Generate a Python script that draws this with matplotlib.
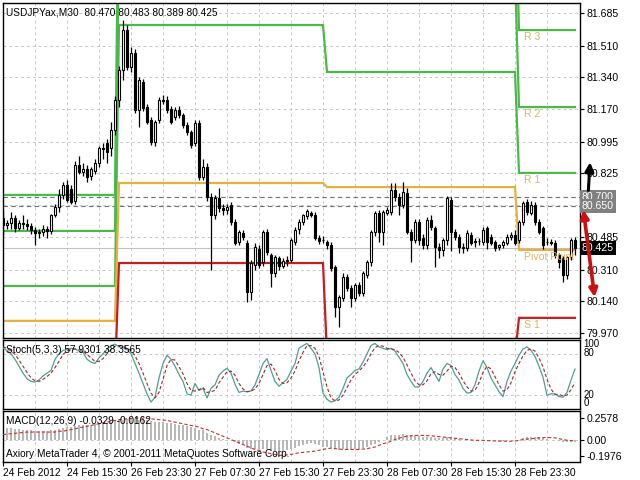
import numpy as np
import matplotlib
matplotlib.use('Agg')
from matplotlib import pyplot as plt

plt.rcParams['font.family'] = ['Liberation Sans', 'DejaVu Sans']
plt.rcParams['font.size'] = 7

# USDJPYax M30 bars, 24 Feb 07:30 .. 29 Feb 06:00
opens = [80.586, 80.549, 80.559, 80.586, 80.533, 80.559, 80.554, 80.545,
         80.522, 80.506, 80.511, 80.530, 80.515, 80.602, 80.645, 80.710,
         80.763, 80.740, 80.680, 80.870, 80.833, 80.850, 80.810, 80.840,
         80.881, 80.961, 80.988, 80.960, 81.058, 81.219, 81.380, 81.594,
         81.396, 81.471, 81.165, 81.315, 81.181, 81.112, 80.994, 81.112,
         81.219, 81.219, 81.170, 81.128, 81.165, 81.138, 81.085, 81.047,
         80.988, 81.095, 80.806, 80.860, 80.699, 80.602, 80.693, 80.640,
         80.629, 80.656, 80.565, 80.458, 80.506, 80.450, 80.190, 80.334,
         80.420, 80.350, 80.511, 80.388, 80.292, 80.370, 80.330, 80.355,
         80.361, 80.458, 80.530, 80.565, 80.596, 80.612, 80.600, 80.479,
         80.468, 80.460, 80.442, 80.324, 80.109, 80.157, 80.270, 80.211,
         80.157, 80.227, 80.184, 80.281, 80.350, 80.511, 80.613, 80.511,
         80.613, 80.618, 80.736, 80.699, 80.656, 80.720, 80.511, 80.468,
         80.565, 80.479, 80.442, 80.576, 80.533, 80.431, 80.415, 80.468,
         80.683, 80.511, 80.484, 80.431, 80.425, 80.495, 80.458, 80.465,
         80.458, 80.533, 80.484, 80.458, 80.430, 80.440, 80.452, 80.484,
         80.495, 80.470, 80.565, 80.672, 80.613, 80.656, 80.565, 80.533,
         80.460, 80.455, 80.452, 80.388, 80.372, 80.281, 80.377, 80.470]
highs = [80.630, 80.575, 80.618, 80.600, 80.575, 80.600, 80.580, 80.560,
         80.540, 80.530, 80.550, 80.545, 80.610, 80.660, 80.740, 80.780,
         80.790, 80.765, 80.890, 80.920, 80.880, 80.870, 80.860, 80.900,
         80.975, 80.990, 81.010, 81.100, 81.240, 81.400, 81.647, 81.620,
         81.503, 81.490, 81.340, 81.330, 81.200, 81.130, 81.110, 81.235,
         81.245, 81.240, 81.185, 81.180, 81.185, 81.150, 81.100, 81.060,
         81.110, 81.110, 80.900, 80.880, 80.720, 80.710, 80.747, 80.660,
         80.660, 80.670, 80.580, 80.520, 80.520, 80.470, 80.360, 80.450,
         80.440, 80.520, 80.530, 80.400, 80.390, 80.385, 80.370, 80.380,
         80.480, 80.540, 80.580, 80.610, 80.635, 80.625, 80.620, 80.495,
         80.490, 80.470, 80.455, 80.335, 80.175, 80.290, 80.285, 80.225,
         80.240, 80.245, 80.300, 80.360, 80.520, 80.625, 80.630, 80.630,
         80.645, 80.774, 80.774, 80.720, 80.780, 80.745, 80.525, 80.580,
         80.580, 80.500, 80.590, 80.600, 80.545, 80.450, 80.480, 80.705,
         80.700, 80.530, 80.500, 80.450, 80.520, 80.510, 80.480, 80.480,
         80.540, 80.545, 80.500, 80.470, 80.445, 80.470, 80.500, 80.510,
         80.520, 80.575, 80.680, 80.690, 80.680, 80.670, 80.580, 80.545,
         80.480, 80.475, 80.470, 80.400, 80.385, 80.385, 80.480, 80.483]
lows = [80.495, 80.530, 80.530, 80.510, 80.520, 80.530, 80.520, 80.500,
        80.442, 80.480, 80.490, 80.480, 80.500, 80.590, 80.620, 80.690,
        80.670, 80.660, 80.660, 80.820, 80.810, 80.780, 80.790, 80.820,
        80.860, 80.900, 80.880, 80.920, 81.030, 81.180, 81.326, 81.380,
        81.370, 81.150, 81.074, 81.160, 81.090, 80.980, 80.975, 81.095,
        81.200, 81.150, 81.090, 81.110, 81.120, 81.070, 81.030, 80.960,
        80.970, 80.790, 80.790, 80.680, 80.308, 80.580, 80.620, 80.600,
        80.610, 80.550, 80.440, 80.440, 80.470, 80.136, 80.147, 80.310,
        80.320, 80.330, 80.390, 80.216, 80.270, 80.310, 80.320, 80.330,
        80.350, 80.440, 80.500, 80.550, 80.580, 80.590, 80.470, 80.445,
        80.450, 80.420, 80.300, 80.056, 80.002, 80.140, 80.195, 80.109,
        80.140, 80.170, 80.170, 80.265, 80.330, 80.490, 80.460, 80.440,
        80.600, 80.600, 80.680, 80.602, 80.640, 80.500, 80.350, 80.450,
        80.440, 80.420, 80.420, 80.520, 80.324, 80.370, 80.380, 80.440,
        80.410, 80.470, 80.400, 80.400, 80.410, 80.440, 80.430, 80.440,
        80.440, 80.420, 80.440, 80.410, 80.415, 80.425, 80.440, 80.470,
        80.440, 80.450, 80.550, 80.600, 80.600, 80.550, 80.500, 80.420,
        80.440, 80.440, 80.370, 80.320, 80.243, 80.260, 80.360, 80.389]
closes = [80.549, 80.559, 80.586, 80.533, 80.559, 80.554, 80.545, 80.522,
          80.506, 80.511, 80.530, 80.515, 80.602, 80.645, 80.710, 80.763,
          80.683, 80.670, 80.870, 80.833, 80.850, 80.806, 80.850, 80.881,
          80.961, 80.955, 80.940, 81.058, 81.219, 81.380, 81.594, 81.396,
          81.471, 81.165, 81.326, 81.176, 81.101, 80.994, 81.101, 81.219,
          81.215, 81.165, 81.101, 81.165, 81.138, 81.085, 81.047, 80.978,
          81.095, 80.806, 80.860, 80.699, 80.602, 80.693, 80.640, 80.629,
          80.645, 80.565, 80.452, 80.511, 80.484, 80.190, 80.345, 80.431,
          80.334, 80.511, 80.404, 80.292, 80.377, 80.330, 80.355, 80.360,
          80.468, 80.522, 80.565, 80.600, 80.625, 80.602, 80.479, 80.463,
          80.470, 80.440, 80.318, 80.109, 80.163, 80.270, 80.211, 80.157,
          80.227, 80.184, 80.292, 80.350, 80.511, 80.613, 80.511, 80.618,
          80.629, 80.736, 80.699, 80.656, 80.725, 80.511, 80.468, 80.565,
          80.468, 80.442, 80.576, 80.538, 80.431, 80.415, 80.468, 80.693,
          80.511, 80.484, 80.431, 80.425, 80.506, 80.452, 80.465, 80.462,
          80.522, 80.458, 80.452, 80.425, 80.440, 80.455, 80.484, 80.495,
          80.452, 80.565, 80.667, 80.618, 80.656, 80.565, 80.511, 80.442,
          80.455, 80.450, 80.388, 80.350, 80.281, 80.377, 80.468, 80.425]

# daily pivot levels (day starts at bar 0, 29, 81, 129)
day_len = [29, 52, 48, 15]
r3 = [80.710, 82.600, 82.400, 81.594]
r2 = [80.517, 82.100, 81.900, 81.181]
r1 = [80.222, 81.621, 81.369, 80.828]
pp = [80.035, 80.774, 80.752, 80.415]
s1 = [79.750, 80.345, 79.850, 80.051]
s2 = [79.550, 79.500, 79.400, 79.700]

# Stoch(5,3,3)
stoch_k = [88, 85, 80, 72, 62, 52, 44, 40, 39, 42, 48, 52, 56, 72, 80, 85,
           86, 88, 87, 84, 82, 72, 68, 66, 74, 80, 86, 92, 94, 90, 89, 86,
           80, 66, 52, 37, 22, 10, 17, 45, 66, 78, 72, 62, 50, 40, 22, 20,
           37, 27, 30, 16, 30, 35, 49, 55, 59, 52, 36, 24, 26, 25, 26, 35,
           50, 66, 73, 56, 40, 33, 38, 43, 55, 66, 88, 92, 95, 88, 80, 60,
           23, 14, 10, 12, 17, 30, 45, 50, 56, 58, 68, 80, 92, 95, 90, 88,
           86, 88, 84, 75, 66, 50, 40, 32, 32, 40, 52, 60, 50, 40, 58, 66,
           63, 50, 42, 30, 23, 24, 35, 55, 70, 60, 45, 35, 25, 18, 40, 55,
           66, 78, 87, 90, 85, 76, 62, 46, 20, 22, 22, 18, 17, 24, 42, 57.93]
stoch_d = [90, 88, 84, 79, 71, 62, 53, 45, 41, 40, 43, 47, 52, 60, 69, 79,
           84, 86, 87, 86, 84, 79, 74, 69, 69, 73, 80, 86, 91, 92, 91, 88,
           85, 77, 66, 52, 37, 23, 16, 24, 43, 63, 72, 71, 61, 51, 37, 27,
           26, 28, 31, 24, 25, 27, 38, 46, 54, 55, 49, 37, 29, 25, 26, 29,
           37, 50, 63, 65, 56, 43, 37, 38, 45, 55, 70, 82, 92, 92, 88, 76,
           54, 32, 16, 12, 13, 20, 31, 42, 50, 55, 61, 69, 80, 89, 92, 91,
           88, 87, 86, 82, 75, 64, 52, 41, 35, 35, 41, 51, 54, 50, 49, 55,
           62, 60, 52, 41, 32, 26, 27, 38, 53, 62, 58, 47, 35, 26, 28, 38,
           54, 66, 77, 85, 87, 84, 74, 61, 43, 29, 21, 21, 19, 20, 28, 38.36]

# MACD(12,26,9): main (histogram) and signal
macd_main = [0.14, 0.14, 0.14, 0.13, 0.13, 0.12, 0.12, 0.11,
             0.10, 0.10, 0.10, 0.10, 0.11, 0.12, 0.13, 0.14,
             0.15, 0.15, 0.16, 0.17, 0.17, 0.18, 0.18, 0.19,
             0.19, 0.20, 0.20, 0.21, 0.22, 0.23, 0.24, 0.25,
             0.25, 0.25, 0.24, 0.24, 0.23, 0.22, 0.21, 0.21,
             0.21, 0.20, 0.20, 0.19, 0.18, 0.17, 0.16, 0.15,
             0.14, 0.12, 0.11, 0.08, 0.05, 0.04, 0.02, 0.01,
             0.00, -0.01, -0.03, -0.05, -0.06, -0.10, -0.11, -0.11,
             -0.12, -0.11, -0.12, -0.13, -0.14, -0.14, -0.14, -0.13,
             -0.12, -0.10, -0.08, -0.06, -0.05, -0.04, -0.05, -0.06,
             -0.09, -0.09, -0.10, -0.12, -0.13, -0.12, -0.12, -0.12,
             -0.11, -0.11, -0.10, -0.09, -0.07, -0.05, -0.03, -0.01,
             0.03, 0.05, 0.06, 0.06, 0.07, 0.06, 0.05, 0.05,
             0.04, 0.03, 0.03, 0.03, 0.02, 0.02, 0.02, 0.03,
             0.03, 0.02, 0.01, 0.00, -0.01, -0.01, -0.01, 0.00,
             0.00, 0.00, -0.01, -0.01, -0.02, -0.02, -0.01, -0.01,
             -0.01, 0.00, 0.02, 0.03, 0.03, 0.03, 0.03, 0.02,
             0.01, 0.00, -0.01, -0.02, -0.03, -0.03, -0.03, -0.0329]
macd_signal = [0.06, 0.065, 0.07, 0.075, 0.08, 0.085, 0.09, 0.09,
               0.09, 0.09, 0.09, 0.09, 0.09, 0.09, 0.10, 0.10,
               0.11, 0.12, 0.13, 0.14, 0.15, 0.16, 0.17, 0.18,
               0.19, 0.20, 0.21, 0.22, 0.23, 0.24, 0.245, 0.25,
               0.255, 0.2578, 0.2578, 0.257, 0.255, 0.25, 0.245, 0.24,
               0.235, 0.23, 0.22, 0.21, 0.20, 0.19, 0.18, 0.17,
               0.16, 0.15, 0.13, 0.12, 0.10, 0.08, 0.06, 0.04,
               0.02, 0.00, -0.02, -0.04, -0.06, -0.08, -0.10, -0.12,
               -0.13, -0.15, -0.16, -0.17, -0.18, -0.19, -0.19, -0.185,
               -0.18, -0.17, -0.16, -0.155, -0.15, -0.145, -0.14, -0.13,
               -0.12, -0.11, -0.105, -0.11, -0.115, -0.12, -0.12, -0.12,
               -0.12, -0.12, -0.115, -0.11, -0.10, -0.09, -0.07, -0.05,
               -0.04, -0.02, 0.0, 0.015, 0.03, 0.04, 0.045, 0.05,
               0.05, 0.05, 0.048, 0.045, 0.04, 0.035, 0.03, 0.025,
               0.02, 0.015, 0.01, 0.005, 0.0, -0.005, -0.01, -0.01,
               -0.01, -0.012, -0.015, -0.018, -0.02, -0.02, -0.02, -0.02,
               -0.018, -0.01, 0.0, 0.005, 0.01, 0.015, 0.02, 0.022,
               0.025, 0.022, 0.02, 0.01, 0.0, -0.008, -0.012, -0.0162]

time_ticks = [0, 16, 32, 48, 64, 80, 96, 112, 128]
time_labels = ['24 Feb 2012', '24 Feb 15:30', '26 Feb 23:30', '27 Feb 07:30',
               '27 Feb 15:30', '27 Feb 23:30', '28 Feb 07:30', '28 Feb 15:30',
               '28 Feb 23:30']
price_ticks = [81.685, 81.510, 81.340, 81.170, 80.995, 80.825, 80.655,
               80.485, 80.310, 80.140, 79.970]
price_labels = ['81.685', '81.510', '81.340', '81.170', '80.995', '80.825', '',
                '80.485', '80.310', '80.140', '79.970']

o = np.array(opens); h = np.array(highs); l = np.array(lows); c = np.array(closes)
n = len(c)
x = np.arange(n)

GREEN = '#4cb84c'
GOLD = '#e6b040'
RED = '#c41e1e'
GRID = '#c8c8c8'
FS = 7.6

fig = plt.figure(figsize=(6.4, 4.8), dpi=100)
fig.patch.set_facecolor('white')

def px_axes(left, top, right, bottom):
    return fig.add_axes([left / 640, 1 - bottom / 480, (right - left) / 640, (bottom - top) / 480])

ax = px_axes(3, 3, 580, 338)
ax_st = px_axes(3, 340, 580, 409)
ax_md = px_axes(3, 411, 580, 462)

for a in (ax, ax_st, ax_md):
    a.set_xlim(0, 144.25)
    for s in a.spines.values():
        s.set_linewidth(1.0)
        s.set_color('black')
    for gx in range(8, 144, 8):
        a.axvline(gx, color=GRID, lw=0.7, ls=(0, (3, 3)), zorder=0)
    a.yaxis.tick_right()
    a.tick_params(axis='y', direction='out', length=3, width=0.8, pad=1.5, labelsize=FS)
    a.tick_params(axis='x', bottom=False, labelbottom=False)

# ---- main price panel ----
ax.set_ylim(79.943, 81.739)
ax.set_yticks(price_ticks)
ax.set_yticklabels(price_labels)
for p in price_ticks:
    ax.axhline(p, color=GRID, lw=0.7, ls=(0, (3, 3)), zorder=0)

# pivot levels
for lev, col in ((r3, GREEN), (r2, GREEN), (r1, GREEN), (pp, GOLD), (s1, RED), (s2, RED)):
    ax.plot(x, np.repeat(lev, day_len), color=col, lw=1.6, zorder=2, solid_joinstyle='miter')

# lines at 80.700 / 80.650 and bid
ax.axhline(80.700, color='#707070', lw=0.8, ls=(0, (4, 3)), zorder=1)
ax.axhline(80.650, color='#707070', lw=0.8, ls=(0, (4, 3)), zorder=1)
ax.axhline(80.425, color='#c0c0c0', lw=0.8, zorder=1)

# candles
up = c >= o
ax.vlines(x, l, h, color='black', lw=0.9, zorder=3)
body = np.maximum(np.abs(c - o), 0.003)
ax.bar(x, body, bottom=np.minimum(o, c), width=0.66,
       color=np.where(up, 'white', 'black'), edgecolor='black', linewidth=0.8, zorder=4)

# level labels for the current day
for lev, txt in ((r3[3], 'R 3'), (r2[3], 'R 2'), (r1[3], 'R 1'), (pp[3], 'Pivot Point'), (s1[3], 'S 1')):
    ax.text(130.2, lev - 0.012, txt, color='#d9b468', fontsize=FS, va='top', ha='left', zorder=5)

ax.text(0.006, 0.988, 'USDJPYax,M30  80.470 80.483 80.389 80.425', transform=ax.transAxes,
        fontsize=7.3, va='top', ha='left', zorder=1)

# price boxes on the scale
for val, fc in ((80.700, '#808080'), (80.650, '#808080'), (80.425, 'black')):
    ax.text(1.003, val, '%.3f' % val, transform=ax.get_yaxis_transform(), color='white',
            fontsize=FS, va='center', ha='left', zorder=6,
            bbox=dict(boxstyle='square,pad=0.2', fc=fc, ec='none'))

# hand drawn arrows
ax.annotate('', xy=(146.8, 80.90), xytext=(146.3, 80.72),
            arrowprops=dict(arrowstyle='-|>', color='black', lw=2.2, mutation_scale=13),
            annotation_clip=False, zorder=7)
ax.annotate('', xy=(148.0, 80.147), xytext=(145.0, 80.645),
            arrowprops=dict(arrowstyle='<|-|>', color='#cc1010', lw=2.6, mutation_scale=12),
            annotation_clip=False, zorder=7)

# ---- stochastic ----
ax_st.set_ylim(0, 100)
ax_st.set_yticks([20, 80])
ax_st.tick_params(axis='y', length=0)
ax_st.set_yticklabels(['', ''])
ax_st.axhline(80, color=GRID, lw=0.7, ls=(0, (3, 3)), zorder=0)
ax_st.axhline(20, color=GRID, lw=0.7, ls=(0, (3, 3)), zorder=0)
for yv, txt in ((0.94, '100'), (0.81, '80'), (0.21, '20'), (0.08, '0')):
    ax_st.text(1.006, yv, txt, transform=ax_st.transAxes, fontsize=7, va='center', ha='left')
ax_st.plot(x, stoch_k, color='#4f9e92', lw=0.9, zorder=3)
ax_st.plot(x, stoch_d, color='#a02828', lw=0.8, ls=(0, (3, 2)), zorder=3)
ax_st.text(0.006, 0.93, 'Stoch(5,3,3) 57.9301 38.3565', transform=ax_st.transAxes,
           fontsize=7.3, va='top', ha='left', zorder=5)

# ---- MACD ----
ax_md.set_ylim(-0.271, 0.344)
ax_md.set_yticks([0.2578, 0.0, -0.1976])
ax_md.set_yticklabels(['0.2578', '0.00', '-0.1976'])
ax_md.axhline(0, color=GRID, lw=0.7, ls=(0, (3, 3)), zorder=0)
ax_md.bar(x, macd_main, width=0.3, color='#b8b8b8', zorder=2)
ax_md.plot(x, macd_signal, color='#c03030', lw=0.8, ls=(0, (3, 2)), zorder=3)
ax_md.text(0.006, 0.9, 'MACD(12,26,9) -0.0329 -0.0162', transform=ax_md.transAxes,
           fontsize=7.3, va='top', ha='left', zorder=5)
ax_md.text(0.006, 0.06, 'Axiory MetaTrader 4, \u00a9 2001-2011 MetaQuotes Software Corp.',
           transform=ax_md.transAxes, fontsize=7.3, va='bottom', ha='left', zorder=5)

ax_md.set_xticks(time_ticks)
ax_md.set_xticklabels(time_labels, ha='left')
ax_md.tick_params(axis='x', bottom=True, labelbottom=True, direction='out', length=3,
                  width=0.8, pad=1.5, labelsize=7.4)

fig.savefig('out.png', dpi=100)
